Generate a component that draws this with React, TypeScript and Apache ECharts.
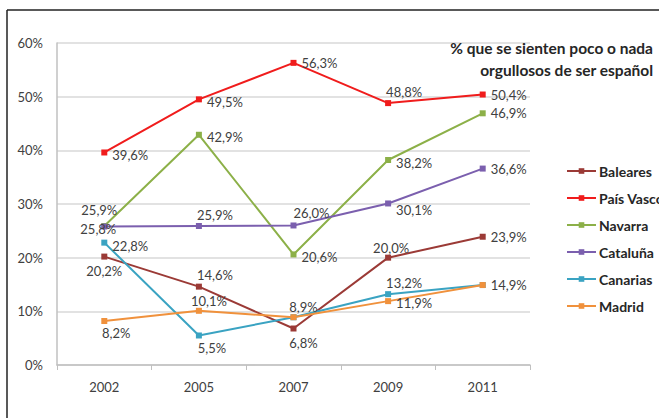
import React, { useEffect, useRef } from "react";
import * as echarts from "echarts";

const years = ["2002", "2005", "2007", "2009", "2011"];
const seriesNames = ["Baleares", "País Vasco", "Navarra", "Cataluña", "Canarias", "Madrid"];
const baleares = [20.2, 14.6, 6.8, 20.0, 23.9];
const paisVasco = [39.6, 49.5, 56.3, 48.8, 50.4];
const navarra = [25.9, 42.9, 20.6, 38.2, 46.9];
const cataluna = [25.8, 25.9, 26.0, 30.1, 36.6];
const canarias = [22.8, 5.5, 8.9, 13.2, 14.9];
const madrid = [8.2, 10.1, 8.9, 11.9, 14.9];
const yTicks = [0, 10, 20, 30, 40, 50, 60];
const titleLines = ["% que se sienten poco o nada", "orgullosos de ser español"];

const colors = ["#9b3a36", "#f01c1c", "#8cb048", "#7b5fae", "#3aa3c2", "#f0913c"];

// label placement per point: [position, dx, dy] or null (hidden)
type LP = [string, number, number] | null;
const labelLayouts: LP[][] = [
  [["bottom", 0, 0], ["top", 16, 3], ["bottom", 10, 0], ["top", 3, 5], ["right", 0, 0]],
  [["right", 0, 3], ["right", 0, 3], ["right", 0, 0], ["top", 16, 3], ["right", 0, 0]],
  [["top", -5, -2], ["right", 0, 2], ["right", 0, 3], ["right", 0, 3], ["right", 0, 0]],
  [["inside", -6, 2], ["top", 16, 3], ["top", 18, 2], ["right", 0, 7], ["right", 0, 0]],
  [["right", 0, 3], ["bottom", 13, -2], null, ["top", 16, 3], null],
  [["bottom", 12, -2], ["top", 10, 5], ["top", 10, 4], ["right", 0, 2], ["right", 0, 0]],
];

const fmt = (v: number) => v.toFixed(1).replace(".", ",") + "%";

export default function App() {
  const ref = useRef<HTMLDivElement>(null);
  useEffect(() => {
    if (!ref.current) return;
    const chart = echarts.init(ref.current, undefined, { renderer: "svg" });
    const values = [baleares, paisVasco, navarra, cataluna, canarias, madrid];
    const font = "Lato";
    const series = values.map((vals, si) => ({
      name: seriesNames[si],
      type: "line",
      symbol: "rect",
      symbolSize: 6,
      color: colors[si],
      lineStyle: { width: 2, color: colors[si] },
      itemStyle: { color: colors[si] },
      z: 2 + si,
      data: vals.map((v, i) => {
        const lp = labelLayouts[si][i];
        return {
          value: v,
          label: lp
            ? {
                show: true,
                position: lp[0],
                offset: [lp[1], lp[2]],
                distance: 5,
                formatter: (p: any) => fmt(p.value),
                color: "#404040",
                fontFamily: font,
                fontSize: 13,
              }
            : { show: false },
        };
      }),
    }));
    chart.setOption({
      animation: false,
      backgroundColor: "#ffffff",
      grid: { left: 57, right: 129, top: 43, bottom: 53, containLabel: false },
      xAxis: {
        type: "category",
        data: years,
        boundaryGap: true,
        axisLine: { show: true, lineStyle: { color: "#c0c0c0", width: 1.5 } },
        axisTick: { show: true, length: 5, lineStyle: { color: "#c0c0c0" } },
        axisLabel: { color: "#404040", fontFamily: font, fontSize: 13, margin: 15 },
        splitLine: { show: false },
      },
      yAxis: {
        type: "value",
        min: yTicks[0],
        max: yTicks[yTicks.length - 1],
        interval: 10,
        axisLine: { show: true, lineStyle: { color: "#c0c0c0", width: 1.5 } },
        axisTick: { show: false },
        axisLabel: {
          color: "#404040",
          fontFamily: font,
          fontSize: 13,
          margin: 14,
          formatter: (v: number) => `${v}%`,
        },
        splitLine: { show: true, lineStyle: { color: "#d9d9d9", width: 1.5 } },
      },
      legend: {
        orient: "vertical",
        left: 561,
        top: 159,
        itemWidth: 29,
        itemHeight: 7,
        itemGap: 13,
        data: seriesNames,
        textStyle: {
          color: "#262626",
          fontFamily: font,
          fontWeight: "bold",
          fontSize: 14,
          lineHeight: 14,
          padding: [0, 0, 0, -2],
        },
      },
      graphic: [
        {
          type: "text",
          x: 653,
          y: 37,
          style: {
            text: titleLines.join("\n"),
            align: "right",
            verticalAlign: "top",
            fill: "#262626",
            font: `bold 15.5px ${font}`,
            lineHeight: 22,
          },
          z: 10,
        },
        {
          type: "line",
          shape: { x1: 7, y1: 10, x2: 659, y2: 10 },
          style: { stroke: "#222222", lineWidth: 1.5 },
        },
        {
          type: "line",
          shape: { x1: 7, y1: 10, x2: 7, y2: 418 },
          style: { stroke: "#222222", lineWidth: 1.5 },
        },
      ],
      series,
    });
    return () => chart.dispose();
  }, []);
  return <div ref={ref} style={{ width: 659, height: 418, position: "absolute", left: 0, top: 0 }} />;
}
